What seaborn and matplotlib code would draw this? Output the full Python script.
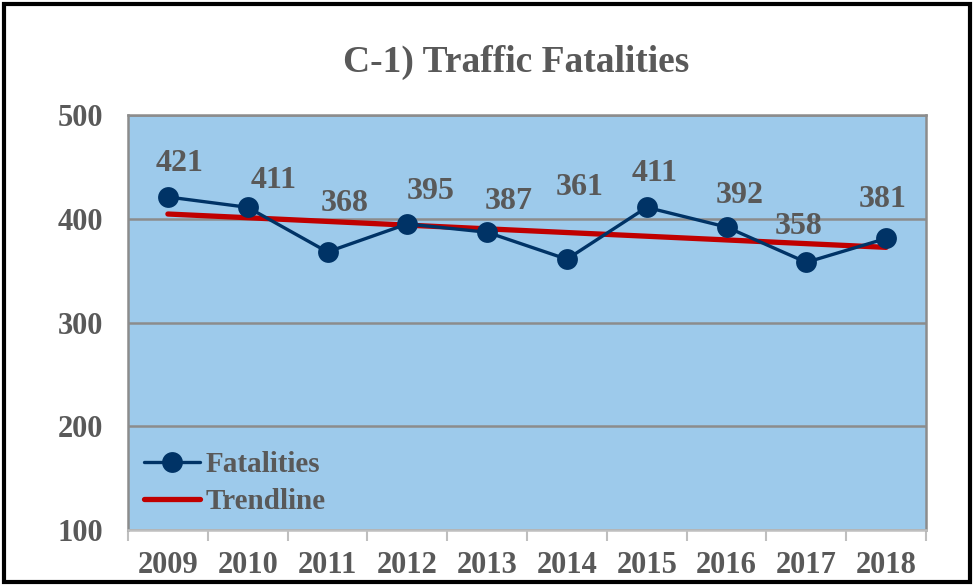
import numpy as np
import pandas as pd
import matplotlib
matplotlib.use("Agg")
import matplotlib.pyplot as plt
from matplotlib.patches import Rectangle
from matplotlib.lines import Line2D
from matplotlib.ticker import FixedLocator
import seaborn as sns

years = [2009, 2010, 2011, 2012, 2013, 2014, 2015, 2016, 2017, 2018]
fatalities = [421, 411, 368, 395, 387, 361, 411, 392, 358, 381]
y_ticks = [100, 200, 300, 400, 500]
title = "C-1) Traffic Fatalities"

# label offsets in pixels (dx, dy) relative to each point
label_dx = [12, 26, 17, 23, 22, 13, 8, 13, -8, -3]
label_dy = [33, 27, 48, 32, 31, 72, 34, 32, 36, 39]

df = pd.DataFrame({"Year": years, "Fatalities": fatalities})

sns.set_theme(style="white")
plt.rcParams["font.family"] = ["Liberation Serif", "DejaVu Serif"]
plt.rcParams["font.weight"] = "bold"

TXT = "#595959"
GRID = "#8C8C8C"
BG = "#9DCAEB"
NAVY = "#003366"
RED = "#C00000"

fig = plt.figure(figsize=(9.74, 5.86), dpi=100)
ax = fig.add_axes([128 / 974, 56 / 586, (926 - 128) / 974, (530 - 115) / 586])
ax.set_facecolor(BG)

sns.regplot(data=df, x="Year", y="Fatalities", ax=ax, scatter=False, ci=None,
            truncate=True, line_kws=dict(color=RED, lw=3.8, zorder=3))
sns.lineplot(data=df, x="Year", y="Fatalities", ax=ax, color=NAVY, lw=2.4,
             marker="o", markersize=15, markeredgewidth=0, zorder=4)

for x, y, dx, dy in zip(years, fatalities, label_dx, label_dy):
    ax.annotate(str(y), (x, y), xytext=(dx, dy), textcoords="offset pixels",
                ha="center", va="center", fontsize=23, fontweight="bold",
                color=TXT, zorder=5)

ax.set_xlim(years[0] - 0.5, years[-1] + 0.5)
ax.set_ylim(y_ticks[0], y_ticks[-1])
ax.set_yticks(y_ticks)
ax.set_yticklabels([str(v) for v in y_ticks])
ax.yaxis.grid(True, color=GRID, lw=1.8)
ax.set_axisbelow(True)
ax.tick_params(axis="y", length=0, pad=18, labelsize=22, labelcolor=TXT)

bounds = [y - 0.5 for y in years] + [years[-1] + 0.5]
ax.xaxis.set_major_locator(FixedLocator(bounds))
ax.xaxis.set_minor_locator(FixedLocator(years))
ax.set_xticklabels([""] * len(bounds))
ax.set_xticklabels([str(y) for y in years], minor=True)
ax.tick_params(axis="x", which="major", length=8, width=1.5, color="#BFBFBF",
               direction="out", bottom=True)
ax.tick_params(axis="x", which="minor", length=0, pad=15, labelsize=22,
               labelcolor=TXT, bottom=True)
for lab in ax.get_xticklabels(minor=True) + ax.get_yticklabels():
    lab.set_fontweight("bold")

ax.set_xlabel("")
ax.set_ylabel("")
for side in ["left", "right", "top"]:
    ax.spines[side].set_color(GRID)
    ax.spines[side].set_linewidth(1.8)
    ax.spines[side].set_visible(True)
ax.spines["bottom"].set_color("#BFBFBF")
ax.spines["bottom"].set_linewidth(1.8)

handles = [Line2D([], [], color=NAVY, lw=2.4, marker="o", markersize=15,
                  markeredgewidth=0),
           Line2D([], [], color=RED, lw=3.8)]
leg = ax.legend(handles, ["Fatalities", "Trendline"], loc="lower left",
                bbox_to_anchor=(-0.0125, -0.027), frameon=False, handlelength=1.9,
                handletextpad=0.2, labelspacing=0.35, borderaxespad=0.5,
                prop=dict(family="Liberation Serif", weight="bold", size=21))
for t in leg.get_texts():
    t.set_color(TXT)

fig.text(516 / 974, 1 - 62 / 586, title, ha="center", va="center",
         fontsize=27, fontweight="bold", color=TXT)

fig.patches.append(Rectangle((4 / 974, 4 / 586), 966 / 974, 578 / 586,
                             transform=fig.transFigure, fill=False,
                             edgecolor="black", lw=3))

fig.savefig("out.png", dpi=100, facecolor="white")
